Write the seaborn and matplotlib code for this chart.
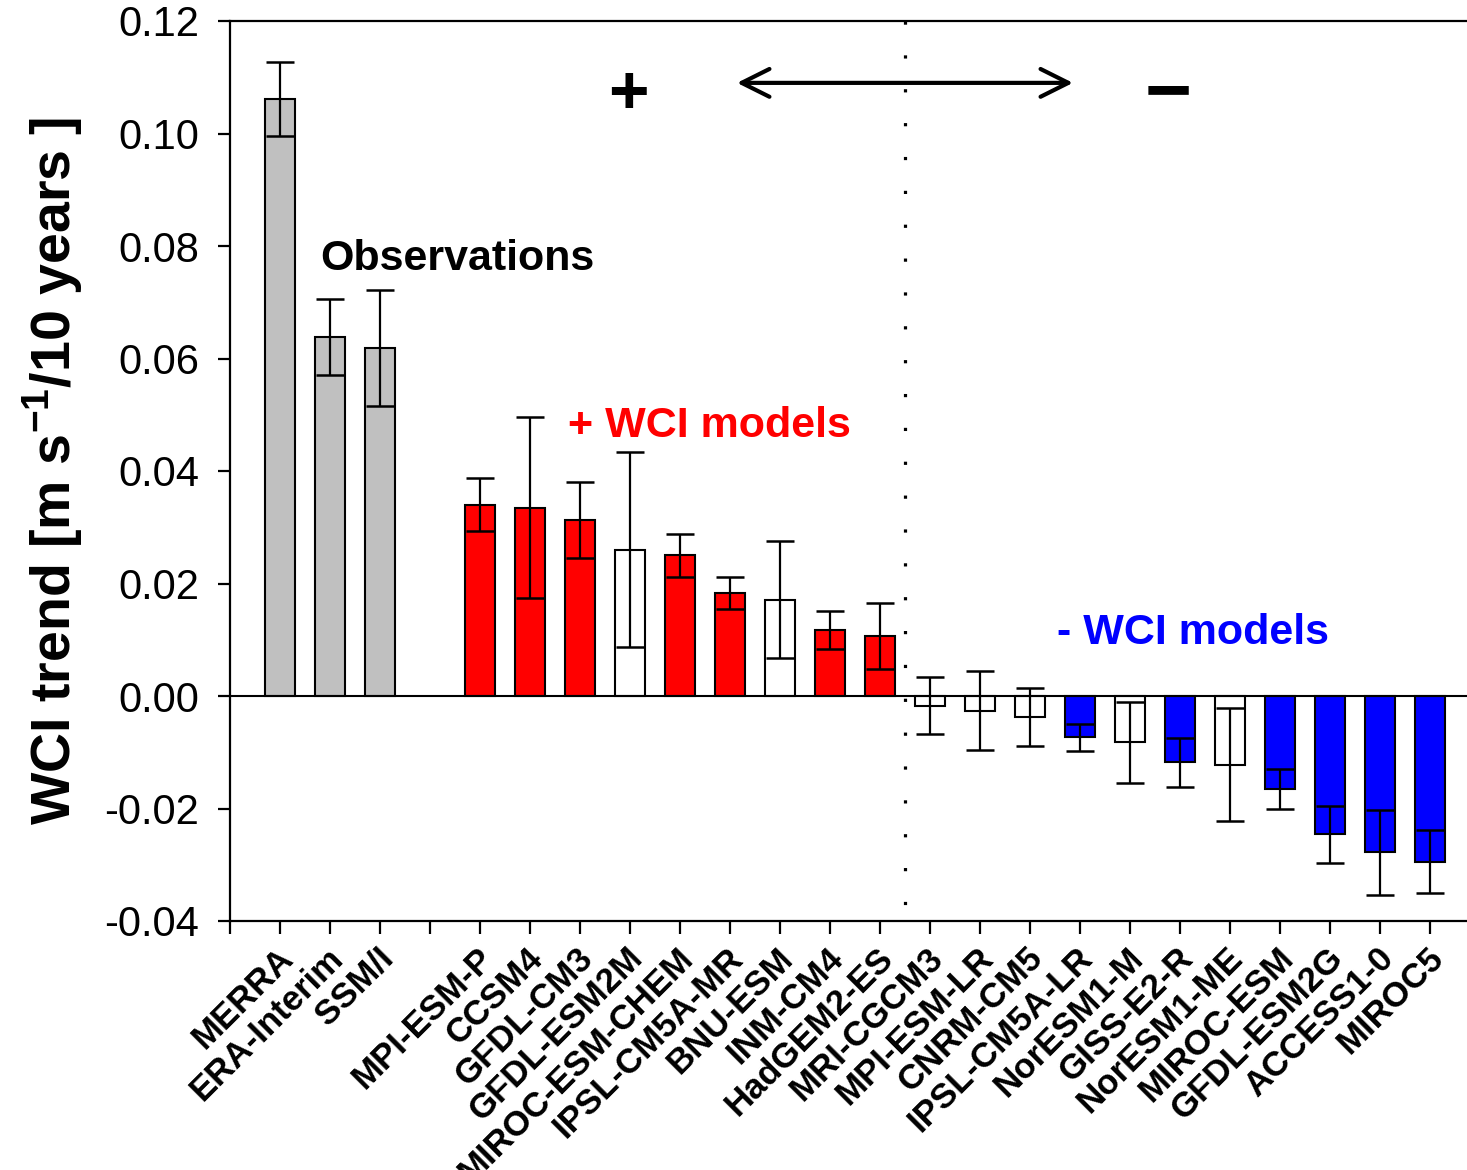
import numpy as np
import pandas as pd
import matplotlib
matplotlib.use("Agg")
import matplotlib.pyplot as plt
import matplotlib.transforms as mtransforms
import seaborn as sns

# ---------------- data ----------------
labels = ["MERRA", "ERA-Interim", "SSM/I",
          "MPI-ESM-P", "CCSM4", "GFDL-CM3", "GFDL-ESM2M", "MIROC-ESM-CHEM",
          "IPSL-CM5A-MR", "BNU-ESM", "INM-CM4", "HadGEM2-ES",
          "MRI-CGCM3", "MPI-ESM-LR", "CNRM-CM5", "IPSL-CM5A-LR", "NorESM1-M",
          "GISS-E2-R", "NorESM1-ME", "MIROC-ESM", "GFDL-ESM2G", "ACCESS1-0", "MIROC5"]
positions = [1, 2, 3,
             5, 6, 7, 8, 9, 10, 11, 12, 13,
             14, 15, 16, 17, 18, 19, 20, 21, 22, 23, 24]
trend = [0.1061, 0.0638, 0.0618,
         0.0340, 0.0335, 0.0313, 0.0260, 0.0250, 0.0183, 0.0171, 0.0117, 0.0107,
         -0.0017, -0.0026, -0.0037, -0.0073, -0.0082, -0.0118, -0.0122,
         -0.0165, -0.0246, -0.0278, -0.0295]
trend_err = [0.0066, 0.0067, 0.0103,
             0.0047, 0.0161, 0.0068, 0.0173, 0.0038, 0.0029, 0.0104, 0.0034, 0.0059,
             0.0050, 0.0070, 0.0052, 0.0024, 0.0072, 0.0043, 0.0100,
             0.0035, 0.0051, 0.0076, 0.0056]
group = ["obs", "obs", "obs",
         "pos", "pos", "pos", "none", "pos", "pos", "none", "pos", "pos",
         "none", "none", "none", "neg", "none", "neg", "none", "neg", "neg", "neg", "neg"]
palette = {"obs": "#c0c0c0", "pos": "#ff0000", "none": "#ffffff", "neg": "#0000ff"}
yticks = [-0.04, -0.02, 0.00, 0.02, 0.04, 0.06, 0.08, 0.10, 0.12]

df = pd.DataFrame({"pos": positions, "trend": trend, "err": trend_err, "group": group})

# ---------------- style ----------------
sns.set_style("ticks")
plt.rcParams["font.family"] = ["Liberation Sans", "DejaVu Sans"]
plt.rcParams["axes.unicode_minus"] = False
plt.rcParams["mathtext.fontset"] = "custom"
plt.rcParams["mathtext.rm"] = "Liberation Sans"
plt.rcParams["mathtext.bf"] = "Liberation Sans:bold"
for k in ["text.color", "axes.labelcolor", "xtick.color", "ytick.color", "axes.edgecolor"]:
    plt.rcParams[k] = "black"

fig = plt.figure(figsize=(14.67, 11.70), dpi=100)
ax = fig.add_axes([230 / 1467, 1 - 921 / 1170, 1 - 230 / 1467, (921 - 21) / 1170])

sns.barplot(data=df, x="pos", y="trend", hue="group", palette=palette,
            native_scale=True, dodge=False, width=0.6, errorbar=None,
            saturation=1, edgecolor="black", linewidth=1.5, legend=False, ax=ax)

ax.errorbar(df["pos"], df["trend"], yerr=df["err"], fmt="none", ecolor="black",
            elinewidth=1.6, capsize=10, capthick=1.8, zorder=5)

ax.axhline(0, color="black", lw=1.5, zorder=6)

# dotted divider
ax.plot([13.5, 13.5], [0.12, -0.0372], color="black", lw=2.3,
        ls=(0, (1, 9.6)), zorder=4, clip_on=False)

ax.set_xlim(0, (1467 - 230) / 50)
ax.set_ylim(-0.04, 0.12)
ax.set_yticks(yticks)
ax.set_yticklabels([f"{v:.2f}" for v in yticks], fontsize=30)

xt = list(range(0, 25))
xl = [""] * 25
for p, l in zip(positions, labels):
    xl[p] = l
ax.set_xticks(xt)
ax.set_xticklabels(xl, rotation=45, ha="right", va="center",
                   rotation_mode="anchor", fontsize=25, fontweight="bold")
ax.tick_params(axis="x", pad=14)
ax.tick_params(axis="both", direction="out", length=9, width=1.6, color="black")
ax.tick_params(axis="y", pad=13)
shift = mtransforms.ScaledTranslation(8 / 100, 0, fig.dpi_scale_trans)
for t in ax.get_xticklabels():
    t.set_transform(t.get_transform() + shift)

for s in ["left", "bottom", "top"]:
    ax.spines[s].set_linewidth(1.6)
    ax.spines[s].set_color("black")
ax.spines["right"].set_visible(False)

ax.set_xlabel("")
ax.set_ylabel(r"WCI trend [m s$^{\mathregular{-1}}$/10 years ]", fontsize=40,
              fontweight="bold", labelpad=14)

# annotations
ax.text(1.8, 0.0776, "Observations", fontsize=31, fontweight="bold",
        color="black", ha="left", va="center")
ax.text(6.76, 0.0480, "+ WCI models", fontsize=31, fontweight="bold",
        color="#ff0000", ha="left", va="center")
ax.text(16.54, 0.0112, "- WCI models", fontsize=31, fontweight="bold",
        color="#0000ff", ha="left", va="center")
ax.text(7.96, 0.1069, "+", fontsize=50, fontweight="bold", ha="center", va="center")
ax.text(18.76, 0.1068, "\u2212", fontsize=58, fontweight="bold", ha="center", va="center")
ax.annotate("", xy=(10.14, 0.1090), xytext=(16.86, 0.1090),
            arrowprops=dict(arrowstyle="<->,head_length=1.0,head_width=0.5",
                            lw=3, color="black", mutation_scale=20,
                            shrinkA=0, shrinkB=0))

fig.savefig("out.png", dpi=100)
